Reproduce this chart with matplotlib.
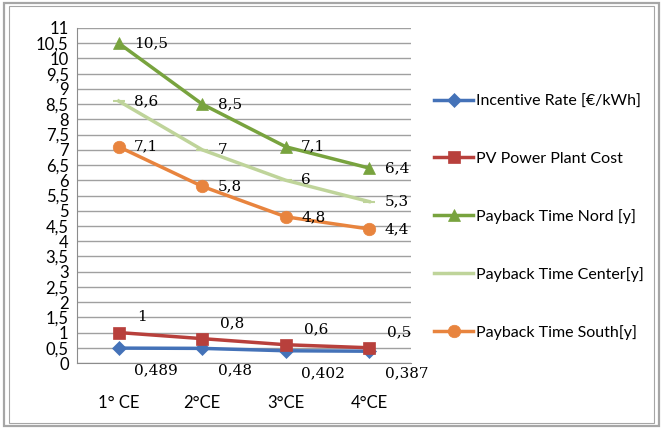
import matplotlib
matplotlib.use("Agg")
import matplotlib.pyplot as plt
from matplotlib.patches import Rectangle

categories = ["1° CE", "2°CE", "3°CE", "4°CE"]
incentive = [0.489, 0.48, 0.402, 0.387]
pv_cost = [1, 0.8, 0.6, 0.5]
payback_nord = [10.5, 8.5, 7.1, 6.4]
payback_center = [8.6, 7, 6, 5.3]
payback_south = [7.1, 5.8, 4.8, 4.4]

y_ticks = [i * 0.5 for i in range(23)]


def fmt(v):
    return "{:g}".format(v).replace(".", ",")


fig = plt.figure(figsize=(6.63, 4.29), dpi=100)
ax = fig.add_axes([77 / 663, 1 - 363 / 429, 334 / 663, 335 / 429])

# outer double frame like the excel chart border
for inset, lw in [(0.006, 1.6), (0.014, 0.8)]:
    fig.patches.append(Rectangle((inset, inset), 1 - 2 * inset, 1 - 2 * inset,
                                 transform=fig.transFigure, fill=False,
                                 edgecolor="#a6a6a6", linewidth=lw))

x = list(range(len(categories)))
series = [
    ("Incentive Rate [€/kWh]", incentive, "#4472b8", "D", 7),
    ("PV Power Plant Cost", pv_cost, "#b8403c", "s", 9),
    ("Payback Time Nord [y]", payback_nord, "#78a33e", "^", 9),
    ("Payback Time Center[y]", payback_center, "#bfd49a", "_", 8),
    ("Payback Time South[y]", payback_south, "#e8843e", "o", 9),
]
for name, vals, col, mk, ms in series:
    ax.plot(x, vals, color=col, lw=2.5, marker=mk, markersize=ms,
            markeredgewidth=1.5 if mk == "_" else 0.5, label=name)

lab_font = dict(family="DejaVu Serif", fontsize=11, color="black")
for i in x:
    ax.annotate(fmt(incentive[i]), (i, incentive[i]), xytext=(11, -16),
                textcoords="offset points", ha="left", va="center", **lab_font)
    ax.annotate(fmt(pv_cost[i]), (i, pv_cost[i]), xytext=(13, 11),
                textcoords="offset points", ha="left", va="center", **lab_font)
    for vals in (payback_nord, payback_center, payback_south):
        ax.annotate(fmt(vals[i]), (i, vals[i]), xytext=(11, 0),
                    textcoords="offset points", ha="left", va="center", **lab_font)

ax.set_xlim(-0.5, len(categories) - 0.5)
ax.set_ylim(0, 11)
ax.set_yticks(y_ticks)
ax.set_yticklabels([fmt(t) for t in y_ticks], fontsize=12, family="Lato")
ax.set_xticks(x)
ax.set_xticklabels(categories, fontsize=12, family="Lato")
ax.tick_params(axis="both", length=0)
ax.tick_params(axis="x", pad=23)
ax.tick_params(axis="y", pad=6)
ax.grid(axis="y", color="#a0a0a0", lw=1)
ax.set_axisbelow(True)
for side in ["top", "right"]:
    ax.spines[side].set_visible(False)
for side in ["left", "bottom"]:
    ax.spines[side].set_color("#8c8c8c")

ax.legend(loc="upper left", bbox_to_anchor=(420 / 663, 1 - 80 / 429),
          bbox_transform=fig.transFigure, frameon=False, handlelength=2.4,
          handletextpad=0.2, labelspacing=2.7, prop={"family": "Lato", "size": 11.5})

fig.savefig("out.png", dpi=100)
